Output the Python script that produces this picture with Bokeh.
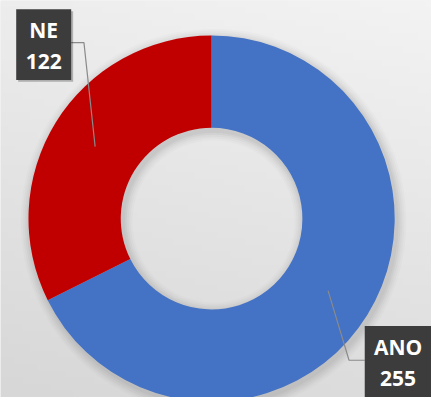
import numpy as np
from bokeh.plotting import figure
from bokeh.models import Range1d
from bokeh.core.properties import value
from bokeh.embed import file_html
from bokeh.resources import INLINE

# ---- data ----
categories = ["ANO", "NE"]
counts = [255, 122]
colors = ["#4472C4", "#C00000"]

# ---- layout (reference pixel space: x right, y measured from top) ----
IMG_W, IMG_H = 439, 405
W, H = IMG_W - 8, IMG_H - 8
CX, CY_IMG = 215.0, 222.5
R_IN, R_OUT = 92.5, 186.5
R_MID = (R_IN + R_OUT) / 2

def Y(img_y):
    return IMG_H - img_y

CY = Y(CY_IMG)

p = figure(width=W, height=H, x_range=Range1d(0, IMG_W), y_range=Range1d(0, IMG_H),
           output_backend="svg", toolbar_location=None, min_border=0)
p.axis.visible = False
p.grid.visible = False
p.outline_line_color = None
p.background_fill_color = "#e9e9e9"
p.border_fill_color = "#e9e9e9"

# background gradient (style only)
ny, nx = 60, 60
yy, xx = np.mgrid[0:ny, 0:nx]
g = 243 - 22 * (yy / (ny - 1)) - 6 * (1 - xx / (nx - 1))
img = np.empty((ny, nx), dtype=np.uint32)
view = img.view(dtype=np.uint8).reshape((ny, nx, 4))
view[:, :, 0] = g.astype(np.uint8)
view[:, :, 1] = g.astype(np.uint8)
view[:, :, 2] = g.astype(np.uint8)
view[:, :, 3] = 255
p.image_rgba(image=[img[::-1]], x=0, y=0, dw=IMG_W, dh=IMG_H)

# soft shadow around ring
for k, a in enumerate([0.035, 0.03, 0.025, 0.02, 0.015]):
    d = 2 + k * 2
    p.annulus(x=CX + 2, y=CY - 3, inner_radius=max(R_IN - d, 0), outer_radius=R_OUT + d,
              fill_color="black", fill_alpha=a, line_color=None)

# donut slices, clockwise from 12 o'clock
total = float(sum(counts))
cum = 0.0
mids = []
for cat, c, col in zip(categories, counts, colors):
    f0 = cum / total
    f1 = (cum + c) / total
    start = np.pi / 2 - 2 * np.pi * f1
    end = np.pi / 2 - 2 * np.pi * f0
    p.annular_wedge(x=CX, y=CY, inner_radius=R_IN, outer_radius=R_OUT,
                    start_angle=start, end_angle=end, fill_color=col,
                    line_color=None)
    mids.append((start + end) / 2)
    cum += c

# labels: elbow point, box edge x, box extents (img coords)
label_layout = {
    "ANO": dict(elbow=(355, 367), edge=371, box=(371, 332, 439, 405)),
    "NE": dict(elbow=(85, 43), edge=72, box=(16, 9, 72, 81)),
}

for cat, c, mid in zip(categories, counts, mids):
    L = label_layout[cat]
    ax = CX + R_MID * np.cos(mid)
    ay = CY + R_MID * np.sin(mid)
    ex, ey = L["elbow"]
    p.line([ax, ex, L["edge"]], [ay, Y(ey), Y(ey)], line_color="#8a8a8a", line_width=1.2)
    x0, y0, x1, y1 = L["box"]
    p.quad(left=x0 + 2, right=x1 + 2, top=Y(y0 + 2), bottom=Y(y1 + 2),
           fill_color="black", fill_alpha=0.25, line_color=None)
    p.quad(left=x0, right=x1, top=Y(y0), bottom=Y(y1),
           fill_color="#3c3c3c", line_color=None)
    bx = (x0 + x1) / 2
    by = (y0 + y1) / 2
    p.text(x=[bx, bx], y=[Y(by - 15), Y(by + 17)], text=[cat, str(c)],
           text_font=value("Open Sans"), text_font_style="bold",
           text_font_size="21px", text_color="white",
           text_align="center", text_baseline="middle")

open("out.html", "w").write(file_html(p, INLINE))
